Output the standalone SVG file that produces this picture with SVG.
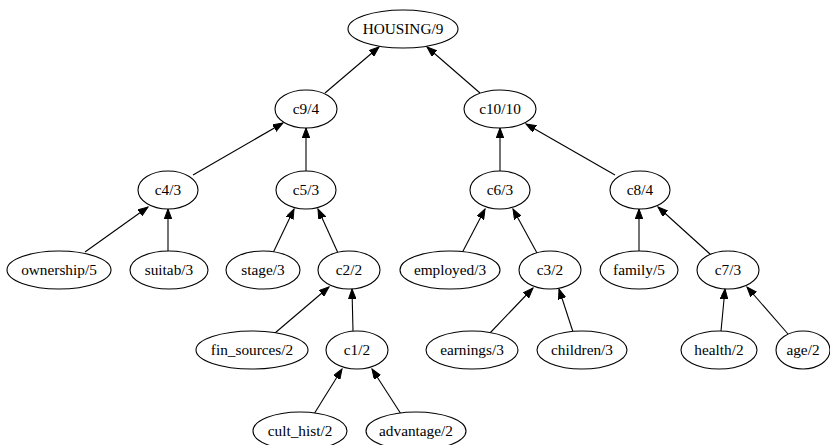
<svg xmlns="http://www.w3.org/2000/svg" width="830" height="445" viewBox="0 0 830 445">
<style>
.n ellipse{fill:#fff;stroke:#000;stroke-width:1.1}
.n text{font-family:'Liberation Serif','Times New Roman',Times,'DejaVu Serif',serif;font-size:15.3px;text-anchor:middle;fill:#000}
.e line{stroke:#000;stroke-width:1.1;marker-end:url(#ah)}
</style>
<defs>
<marker id="ah" markerUnits="userSpaceOnUse" markerWidth="11" markerHeight="8" refX="10" refY="3.75" orient="auto" viewBox="0 0 11 8">
<path d="M0,0 L10,3.75 L0,7.5 z" fill="#000" stroke="#000" stroke-width="1"/>
</marker>
</defs>
<rect width="830" height="445" fill="#fff"/>
<g id="edges" class="e">
<line x1="325" y1="93" x2="379" y2="47"/>
<line x1="480" y1="93" x2="427" y2="47"/>
<line x1="193" y1="175" x2="283" y2="123"/>
<line x1="306" y1="171" x2="306" y2="128"/>
<line x1="500" y1="171" x2="500" y2="128"/>
<line x1="615" y1="175" x2="526" y2="124"/>
<line x1="85" y1="252" x2="148" y2="207"/>
<line x1="168" y1="251" x2="168" y2="209"/>
<line x1="273" y1="253" x2="294" y2="209"/>
<line x1="338" y1="253" x2="318" y2="209"/>
<line x1="462" y1="253" x2="485" y2="209"/>
<line x1="537" y1="253" x2="513" y2="209"/>
<line x1="639" y1="251" x2="639" y2="209"/>
<line x1="710" y1="254" x2="658" y2="207"/>
<line x1="275" y1="333" x2="329" y2="287"/>
<line x1="353" y1="331" x2="352" y2="289"/>
<line x1="490" y1="333" x2="533" y2="288"/>
<line x1="573" y1="332" x2="559" y2="289"/>
<line x1="721" y1="331" x2="725" y2="289"/>
<line x1="788" y1="334" x2="747" y2="287"/>
<line x1="314" y1="414" x2="342" y2="369"/>
<line x1="401" y1="414" x2="372" y2="369"/>
</g>
<g id="nodes">
<g id="HOUSING" class="n"><ellipse cx="403" cy="29" rx="55" ry="19"/><text x="403" y="34">HOUSING/9</text></g>
<g id="c9" class="n"><ellipse cx="306" cy="109" rx="31" ry="19"/><text x="306" y="114">c9/4</text></g>
<g id="c10" class="n"><ellipse cx="500" cy="109" rx="36" ry="19"/><text x="500" y="114">c10/10</text></g>
<g id="c4" class="n"><ellipse cx="168" cy="190" rx="30" ry="19"/><text x="168" y="195">c4/3</text></g>
<g id="c5" class="n"><ellipse cx="306" cy="190" rx="30" ry="19"/><text x="306" y="195">c5/3</text></g>
<g id="c6" class="n"><ellipse cx="500" cy="190" rx="30" ry="19"/><text x="500" y="195">c6/3</text></g>
<g id="c8" class="n"><ellipse cx="640" cy="190" rx="30" ry="19"/><text x="640" y="195">c8/4</text></g>
<g id="ownership" class="n"><ellipse cx="59" cy="270" rx="52" ry="19"/><text x="59" y="275">ownership/5</text></g>
<g id="suitab" class="n"><ellipse cx="169" cy="270" rx="39" ry="19"/><text x="169" y="275">suitab/3</text></g>
<g id="stage" class="n"><ellipse cx="263" cy="270" rx="37" ry="19"/><text x="263" y="275">stage/3</text></g>
<g id="c2" class="n"><ellipse cx="349" cy="270" rx="31" ry="19"/><text x="349" y="275">c2/2</text></g>
<g id="employed" class="n"><ellipse cx="450" cy="270" rx="50" ry="19"/><text x="450" y="275">employed/3</text></g>
<g id="c3" class="n"><ellipse cx="550" cy="270" rx="31" ry="19"/><text x="550" y="275">c3/2</text></g>
<g id="family" class="n"><ellipse cx="639" cy="270" rx="39" ry="19"/><text x="639" y="275">family/5</text></g>
<g id="c7" class="n"><ellipse cx="728" cy="270" rx="31" ry="19"/><text x="728" y="275">c7/3</text></g>
<g id="fin_sources" class="n"><ellipse cx="252" cy="350" rx="56" ry="19"/><text x="252" y="355">fin_sources/2</text></g>
<g id="c1" class="n"><ellipse cx="357" cy="350" rx="31" ry="19"/><text x="357" y="355">c1/2</text></g>
<g id="earnings" class="n"><ellipse cx="472" cy="350" rx="46" ry="19"/><text x="472" y="355">earnings/3</text></g>
<g id="children" class="n"><ellipse cx="582" cy="350" rx="45" ry="19"/><text x="582" y="355">children/3</text></g>
<g id="health" class="n"><ellipse cx="719" cy="350" rx="38" ry="19"/><text x="719" y="355">health/2</text></g>
<g id="age" class="n"><ellipse cx="803" cy="350" rx="27" ry="19"/><text x="803" y="355">age/2</text></g>
<g id="cult_hist" class="n"><ellipse cx="300" cy="431" rx="47" ry="19"/><text x="300" y="436">cult_hist/2</text></g>
<g id="advantage" class="n"><ellipse cx="416" cy="431" rx="50" ry="19"/><text x="416" y="436">advantage/2</text></g>
</g>
</svg>
